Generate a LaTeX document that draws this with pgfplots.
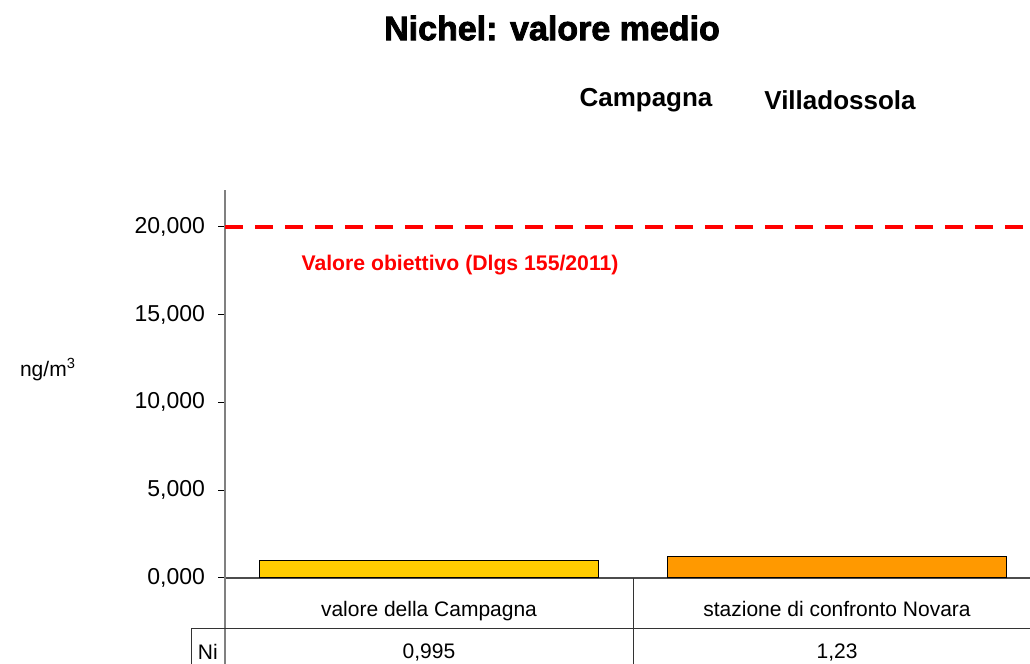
\documentclass[border=0pt]{standalone}
\usepackage{pgfplots}
\pgfplotsset{compat=1.18}
\usepackage{fontspec}
\setmainfont{Liberation Sans}
\newfontfamily\titlefont[FakeBold=2.5]{Liberation Sans Bold}
\definecolor{barY}{HTML}{FFCC00}
\definecolor{barO}{HTML}{FF9900}
\definecolor{axgray}{HTML}{808080}
\begin{document}
\begin{tikzpicture}
\begin{axis}[
  at={(112.5pt,43pt)}, anchor=south west,
  scale only axis, width=402.5pt, height=194pt,
  xmin=-0.5, xmax=1.473, ymin=0, ymax=22.1,
  axis x line=bottom, axis y line=left,
  axis line style={-},
  y axis line style={axgray, line width=0.8pt},
  x axis line style={black!70, line width=0.8pt},
  ytick={0,5,10,15,20},
  /pgf/number format/fixed, /pgf/number format/fixed zerofill, /pgf/number format/precision=3,
  /pgf/number format/use comma, /pgf/number format/1000 sep={}, /pgf/number format/assume math mode=true,
  yticklabel style={font=\fontsize{11.5}{13}\selectfont, xshift=-3pt},
  ytick style={black, line width=0.5pt},
  tick align=outside, major tick length=3.5pt,
  xtick={0,1}, xticklabels={valore della Campagna, stazione di confronto Novara},
  xtick style={draw=none},
  xticklabel style={font=\fontsize{10.5}{12}\selectfont, anchor=base, yshift=-16pt},
  clip=false,
  bar width=0.833,
]
\addplot[ybar, fill=barY, draw=black, line width=0.5pt] coordinates {(0,0.995)};
\addplot[ybar, fill=barO, draw=black, line width=0.5pt] coordinates {(1,1.23)};
\addplot[red, line width=2pt, dash pattern=on 9pt off 6pt] coordinates {(-0.5,20) (1.473,20)};
\node[text=red, font=\bfseries\fontsize{10.6}{12}\selectfont] at (axis cs:0.076,17.83) {Valore obiettivo (Dlgs 155/2011)};
% data table
\draw[axgray, line width=0.8pt] (axis cs:-0.5,0) -- (axis cs:-0.5,-5);
\draw[black!80, line width=0.5pt] (axis cs:0.5,0) -- (axis cs:0.5,-5);
\draw[black!80, line width=0.5pt] (axis cs:-0.583,-2.85) -- (axis cs:1.473,-2.85);
\draw[black!80, line width=0.5pt] (axis cs:-0.583,-2.85) -- (axis cs:-0.583,-5);
\node[font=\fontsize{10.5}{12}\selectfont] at (axis cs:-0.542,-4.22) {Ni};
\node[font=\fontsize{10.5}{12}\selectfont] at (axis cs:0,-4.22) {0,995};
\node[font=\fontsize{10.5}{12}\selectfont] at (axis cs:1,-4.22) {1,23};
\end{axis}
\node[font=\titlefont\fontsize{17}{20}\selectfont] at (276pt,318pt) {Nichel: valore medio};
\node[font=\bfseries\fontsize{13}{15}\selectfont] at (323pt,282pt) {Campagna};
\node[font=\bfseries\fontsize{13}{15}\selectfont] at (420pt,282pt) {Villadossola};
\node[font=\fontsize{10.5}{12}\selectfont] at (24pt,147pt) {ng/m\textsuperscript{3}};
\pgfresetboundingbox
\useasboundingbox (0,0) rectangle (515pt,332pt);
\end{tikzpicture}
\end{document}
